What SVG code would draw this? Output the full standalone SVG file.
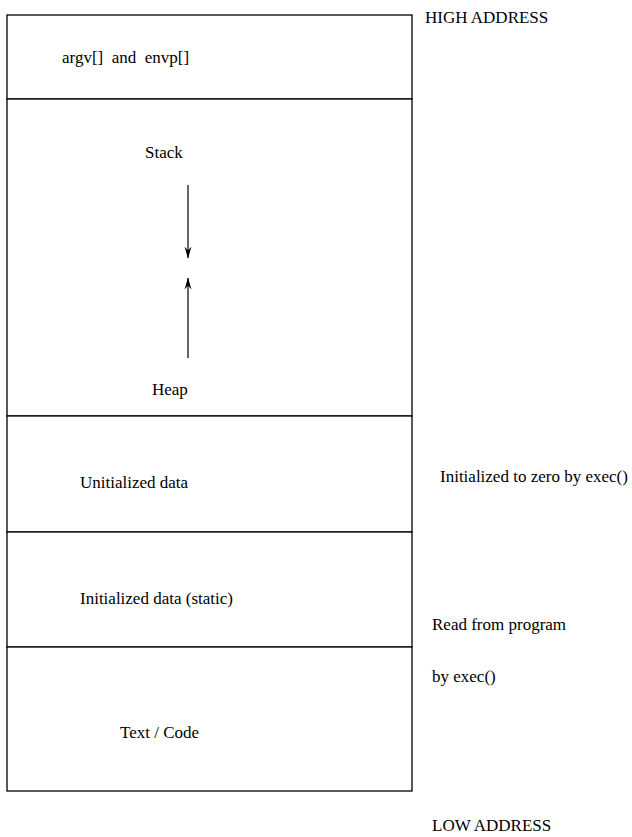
<svg xmlns="http://www.w3.org/2000/svg" width="632" height="837" viewBox="0 0 632 837">
  <style>
    .seg { fill: #ffffff; stroke: #000000; stroke-width: 1.3; }
    .lbl { font-family: 'Liberation Serif', 'Times New Roman', Times, 'DejaVu Serif', serif; font-size: 17px; fill: #000000; white-space: pre; }
    .arr { stroke: #333333; stroke-width: 1.5; fill: none; }
  </style>
  <defs>
    <marker id="head" viewBox="0 0 12 8" refX="11.5" refY="4" markerWidth="12" markerHeight="8" orient="auto" markerUnits="userSpaceOnUse">
      <path d="M0,0.5 L12,4 L0,7.5 L4,4 Z" fill="#000000"/>
    </marker>
  </defs>
  <rect width="632" height="837" fill="#ffffff"/>

  <!-- process memory segments, highest address at the top -->
  <g id="args">
    <rect class="seg" x="7" y="15" width="405" height="84"/>
    <text class="lbl" x="62" y="63" xml:space="preserve">argv[]  and  envp[]</text>
  </g>
  <g id="stack-heap">
    <rect class="seg" x="7" y="99" width="405" height="317"/>
    <text class="lbl" x="145" y="158">Stack</text>
    <text class="lbl" x="152" y="395">Heap</text>
  </g>
  <g id="bss">
    <rect class="seg" x="7" y="416" width="405" height="116"/>
    <text class="lbl" x="80" y="488">Unitialized data</text>
  </g>
  <g id="data">
    <rect class="seg" x="7" y="532" width="405" height="115"/>
    <text class="lbl" x="80" y="604">Initialized data (static)</text>
  </g>
  <g id="text">
    <rect class="seg" x="7" y="647" width="405" height="144"/>
    <text class="lbl" x="120" y="738">Text / Code</text>
  </g>

  <!-- side annotations -->
  <g id="notes">
    <text class="lbl" x="425" y="23">HIGH ADDRESS</text>
    <text class="lbl" x="440" y="482">Initialized to zero by exec()</text>
    <text class="lbl" x="432" y="630">Read from program</text>
    <text class="lbl" x="432" y="682">by exec()</text>
    <text class="lbl" x="432" y="831">LOW ADDRESS</text>
  </g>

  <!-- growth directions of stack and heap -->
  <g id="connectors">
    <line class="arr" x1="188" y1="185" x2="188" y2="258" marker-end="url(#head)"/>
    <line class="arr" x1="188" y1="358" x2="188" y2="278" marker-end="url(#head)"/>
  </g>
</svg>
